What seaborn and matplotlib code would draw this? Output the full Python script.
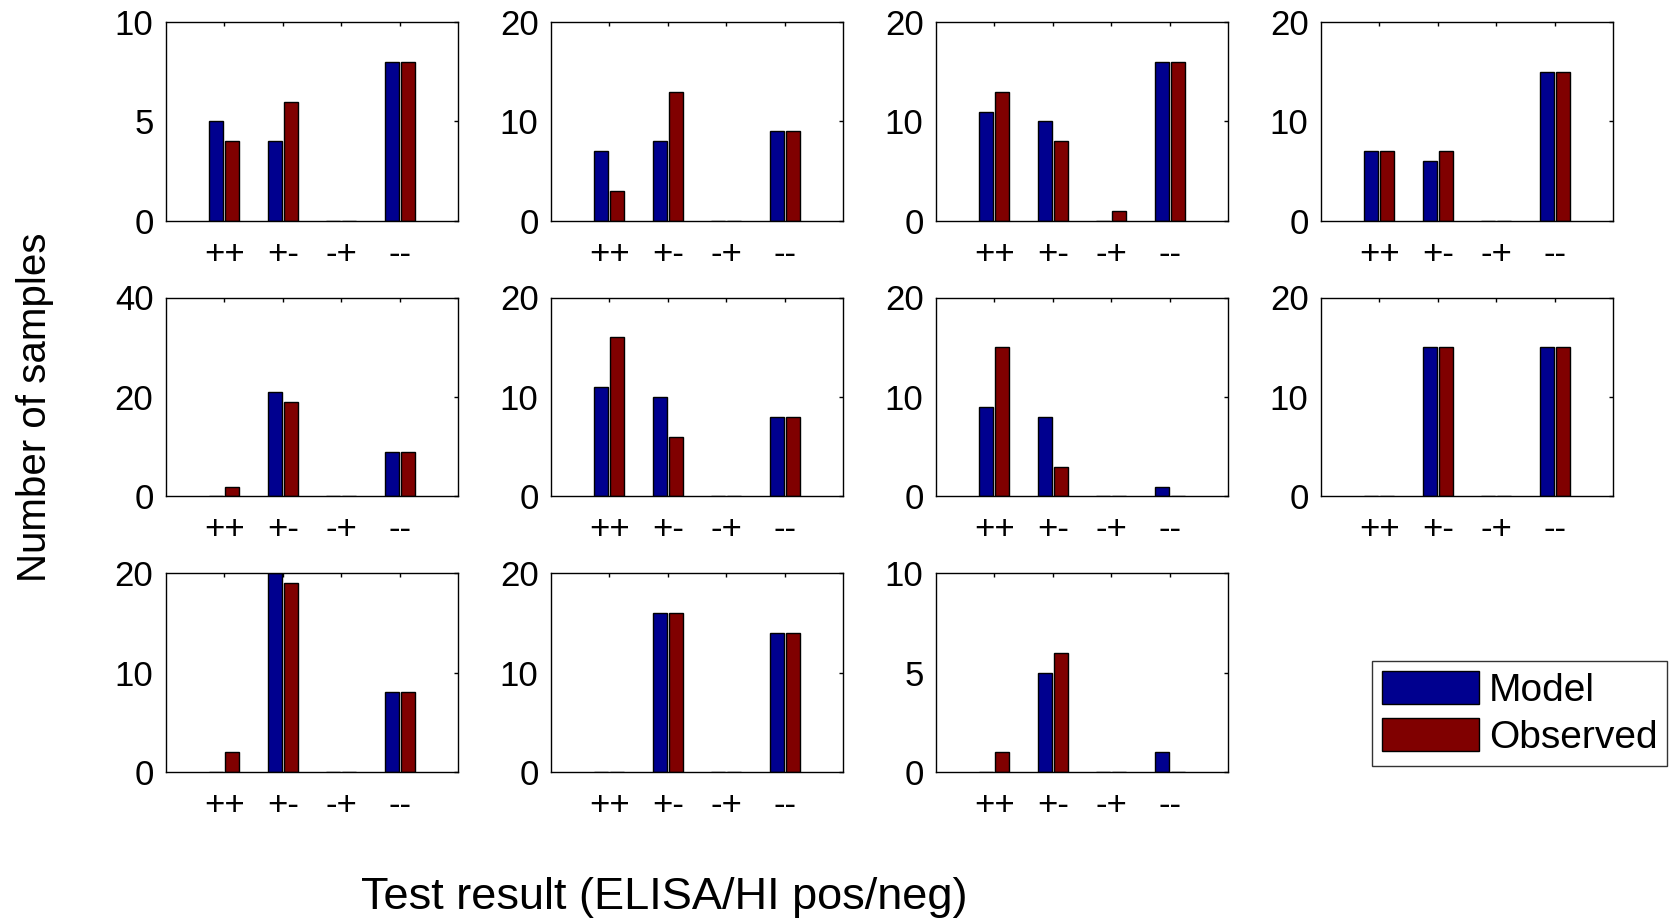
import numpy as np
import pandas as pd
import matplotlib
matplotlib.use("Agg")
import matplotlib.pyplot as plt
import seaborn as sns

# test outcome categories (ELISA/HI pos/neg)
categories = ["++", "+-", "-+", "--"]
series = ["Model", "Observed"]

# one list per panel (row by row)
model_counts = [
    [5, 4, 0, 8], [7, 8, 0, 9], [11, 10, 0, 16], [7, 6, 0, 15],
    [0, 21, 0, 9], [11, 10, 0, 8], [9, 8, 0, 1], [0, 15, 0, 15],
    [0, 20, 0, 8], [0, 16, 0, 14], [0, 5, 0, 1],
]
observed_counts = [
    [4, 6, 0, 8], [3, 13, 0, 9], [13, 8, 1, 16], [7, 7, 0, 15],
    [2, 19, 0, 9], [16, 6, 0, 8], [15, 3, 0, 0], [0, 15, 0, 15],
    [2, 19, 0, 8], [0, 16, 0, 14], [1, 6, 0, 0],
]
y_max = [10, 20, 20, 20, 40, 20, 20, 20, 20, 20, 10]

colors = {"Model": "#00008f", "Observed": "#800000"}

sns.set_style("white")
plt.rcParams["font.family"] = ["Liberation Sans", "DejaVu Sans"]
plt.rcParams["text.color"] = "black"

fig = plt.figure(figsize=(16.69, 9.19), dpi=100)

W, H = 1669, 919
lefts = [166, 551, 936, 1321]
tops = [22, 297.5, 573]
ax_w, ax_h = 292, 199

for i in range(11):
    r, c = divmod(i, 4)
    ax = fig.add_axes([lefts[c] / W, 1 - (tops[r] + ax_h) / H, ax_w / W, ax_h / H])
    df = pd.DataFrame({
        "result": categories * 2,
        "source": ["Model"] * 4 + ["Observed"] * 4,
        "count": model_counts[i] + observed_counts[i],
    })
    sns.barplot(data=df, x="result", y="count", hue="source",
                order=categories, hue_order=series, palette=colors,
                width=0.55, gap=0.13, edgecolor="black", linewidth=1,
                saturation=1, legend=False, ax=ax)
    ax.set_xlim(-1, 4)
    ax.set_ylim(0, y_max[i])
    ax.set_yticks([0, y_max[i] / 2, y_max[i]])
    ax.set_yticklabels([f"{v:g}" for v in [0, y_max[i] / 2, y_max[i]]])
    ax.set_xlabel("")
    ax.set_ylabel("")
    ax.tick_params(axis="both", direction="in", length=3, width=1,
                   top=True, right=True, labelsize=25, colors="black")
    ax.tick_params(axis="x", pad=12)
    ax.tick_params(axis="y", pad=9)
    for s in ax.spines.values():
        s.set_visible(True)
        s.set_color("black")
        s.set_linewidth(1)

handles = [plt.Rectangle((0, 0), 1, 1, facecolor=colors[s], edgecolor="black", linewidth=1)
           for s in series]
fig.legend(handles, series, loc="upper right", bbox_to_anchor=(1667 / W, 1 - 661 / H),
           fontsize=28, frameon=True, fancybox=False, edgecolor="black",
           handlelength=2.5, handleheight=0.92, handletextpad=0.25,
           labelspacing=0.25, borderpad=0.25, borderaxespad=0)

fig.text(35 / W, 1 - 407 / H, "Number of samples", rotation=90,
         ha="center", va="center", fontsize=29)
fig.text(664 / W, 1 - 898 / H, "Test result (ELISA/HI pos/neg)",
         ha="center", va="center", fontsize=32.5)

fig.savefig("out.png", dpi=100, facecolor="white")
